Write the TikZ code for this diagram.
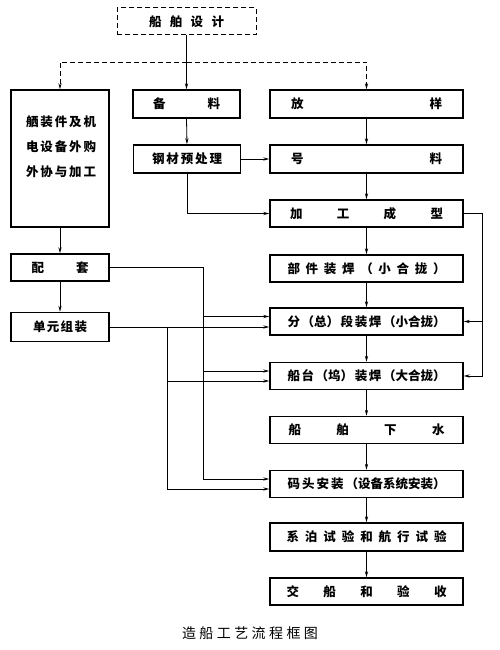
\documentclass[tikz,border=0pt]{standalone}
\usepackage{fontspec}
\newfontfamily\cjk{Noto Sans CJK SC}
\usetikzlibrary{arrows.meta}
\newcommand\spreadbox[2]{\hbox to #1{#2}}
\begin{document}
\begin{tikzpicture}[x=1pt,y=-1pt,
  box/.style={draw,line width=1.5pt,inner sep=0pt,font=\cjk\bfseries\fontsize{12.5}{14}\selectfont},
  mainbox/.style={box,minimum width=193pt,minimum height=27pt},
  sidebox/.style={box,minimum width=98pt,minimum height=28pt},
  midbox/.style={box,minimum width=107pt,minimum height=28pt},
  ln/.style={line width=0.8pt},
  arr/.style={line width=0.8pt,-{Stealth[length=6pt,width=3.2pt]}},
  dsh/.style={line width=0.8pt,dash pattern=on 5pt off 3pt}]
\useasboundingbox (0,0) rectangle (500,650);
% top
\node[box,line width=1pt,dash pattern=on 5pt off 3pt,minimum width=139pt,minimum height=27pt] (design) at (186.5,21.5) {\spreadbox{75pt}{船\hfill 舶\hfill 设\hfill 计}};
% left column
\node[box,minimum width=98pt,minimum height=137pt] (big) at (60,158.5) {};
\node[font=\cjk\bfseries\fontsize{12.5}{14}\selectfont,align=left,inner sep=0pt] (bigtext) at (61,147)
  {\spreadbox{70pt}{舾\hfill 装\hfill 件\hfill 及\hfill 机}\\[11pt]\spreadbox{70pt}{电\hfill 设\hfill 备\hfill 外\hfill 购}\\[11pt]\spreadbox{70pt}{外\hfill 协\hfill 与\hfill 加\hfill 工}};
\node[sidebox,minimum height=27pt] (peitao) at (60,267.5) {\spreadbox{57pt}{配\hfill 套}};
\node[sidebox,minimum height=29pt] (danyuan) at (60,327) {\spreadbox{54pt}{单\hfill 元\hfill 组\hfill 装}};
% middle column
\node[midbox] (beiliao) at (186.5,104) {\spreadbox{67pt}{备\hfill 料}};
\node[midbox] (gangcai) at (187,159) {\spreadbox{70pt}{钢\hfill 材\hfill 预\hfill 处\hfill 理}};
% main column
\node[mainbox,minimum height=28pt] (fangyang) at (366.5,104) {\spreadbox{151pt}{放\hfill 样}};
\node[mainbox,minimum height=28pt] (haoliao) at (366.5,159) {\spreadbox{151pt}{号\hfill 料}};
\node[mainbox] (jiagong) at (366.5,213.5) {\spreadbox{153pt}{加\hfill 工\hfill 成\hfill 型}};
\node[mainbox] (bujian) at (366.5,268.5) {\spreadbox{158pt}{部\hfill 件\hfill 装\hfill 焊\hfill （\hfill 小\hfill 合\hfill 拢\hfill ）}};
\node[mainbox] (fenduan) at (366.5,321.5) {\spreadbox{158pt}{分\hfill （总）\hfill 段\hfill 装\hfill 焊\hfill （小合拢）}};
\node[mainbox] (chuantai) at (366.5,376) {\spreadbox{158pt}{船\hfill 台\hfill （坞）\hfill 装\hfill 焊\hfill （大合拢）}};
\node[mainbox] (xiashui) at (366.5,430) {\spreadbox{156pt}{船\hfill 舶\hfill 下\hfill 水}};
\node[mainbox] (matou) at (366.5,484) {\spreadbox{158pt}{码\hfill 头\hfill 安\hfill 装\hfill （设备系统安装）}};
\node[mainbox,minimum height=28pt] (xibo) at (366.5,537) {\spreadbox{160pt}{系\hfill 泊\hfill 试\hfill 验\hfill 和\hfill 航\hfill 行\hfill 试\hfill 验}};
\node[mainbox] (jiaochuan) at (366.5,591.5) {\spreadbox{160pt}{交\hfill 船\hfill 和\hfill 验\hfill 收}};
% caption
\node[font=\cjk\fontsize{14}{16}\selectfont,inner sep=0pt] (caption) at (250,633) {\spreadbox{136pt}{造\hfill 船\hfill 工\hfill 艺\hfill 流\hfill 程\hfill 框\hfill 图}};
% coordinates
\coordinate (hy) at (0,62);
\coordinate (rx) at (482,0);
\coordinate (px) at (203,0);
\coordinate (ux) at (167,0);
% design connections
\draw[arr] (design.south) -- (beiliao.north);
\draw[dsh,-{Stealth[length=6pt,width=3.2pt]}] (hy -| design.south) -| (big.north);
\draw[dsh,-{Stealth[length=6pt,width=3.2pt]}] (hy -| design.south) -| (fangyang.north);
% middle
\draw[arr] (beiliao.south) -- (gangcai.north);
\draw[arr] (gangcai.east) -- (haoliao.west);
\draw[arr] (gangcai.south) |- (jiagong.west);
% main column
\draw[arr] (fangyang.south) -- (haoliao.north);
\draw[arr] (haoliao.south) -- (jiagong.north);
\draw[arr] (jiagong.south) -- (bujian.north);
\draw[arr] (bujian.south) -- (fenduan.north);
\draw[arr] (fenduan.south) -- (chuantai.north);
\draw[arr] (chuantai.south) -- (xiashui.north);
\draw[arr] (xiashui.south) -- (matou.north);
\draw[arr] (matou.south) -- (xibo.north);
\draw[arr] (xibo.south) -- (jiaochuan.north);
% right loop
\draw[arr] (jiagong.east) -| (rx |- chuantai.east) -- (chuantai.east);
\draw[arr] (rx |- fenduan.east) -- (fenduan.east);
% left column
\draw[arr] (big.south) -- (peitao.north);
\draw[arr] (peitao.south) -- (danyuan.north);
% peitao feeds
\draw[ln] (peitao.east) -| ([yshift=5pt]px |- matou.west);
\draw[arr] ([yshift=5pt]px |- fenduan.west) -- ([yshift=5pt]fenduan.west);
\draw[arr] ([yshift=5pt]px |- chuantai.west) -- ([yshift=5pt]chuantai.west);
\draw[arr] ([yshift=5pt]px |- matou.west) -- ([yshift=5pt]matou.west);
% danyuan feeds
\draw[arr] (danyuan.east) -- (fenduan.west |- danyuan.east);
\draw[ln] (ux |- danyuan.east) -- ([yshift=-5pt]ux |- matou.west);
\draw[arr] ([yshift=-5pt]ux |- chuantai.west) -- ([yshift=-5pt]chuantai.west);
\draw[arr] ([yshift=-5pt]ux |- matou.west) -- ([yshift=-5pt]matou.west);
\end{tikzpicture}
\end{document}
